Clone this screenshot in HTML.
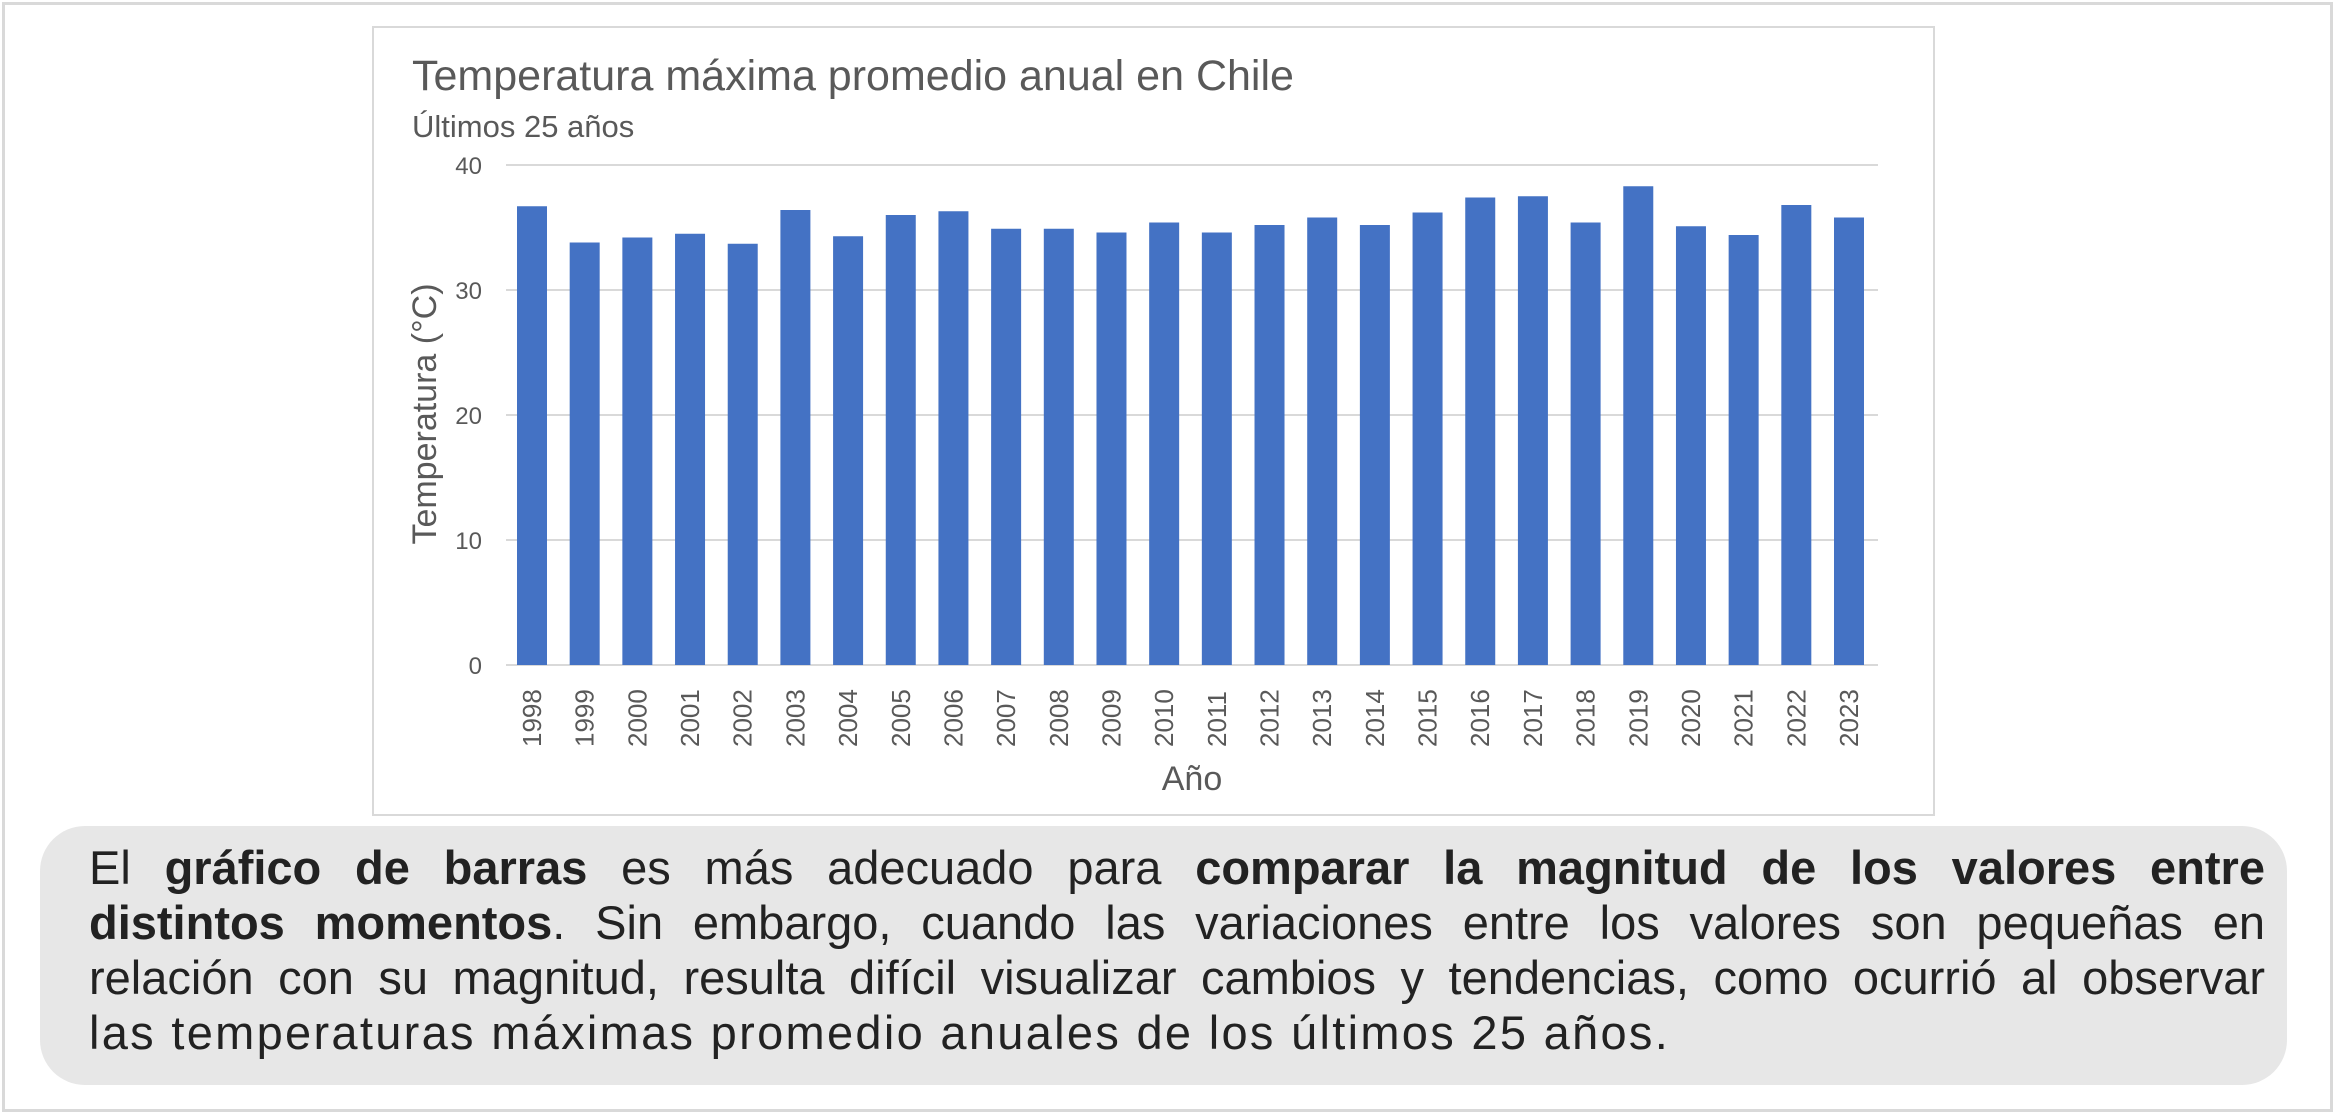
<!DOCTYPE html>
<html><head><meta charset="utf-8"><style>
body{margin:0;width:2333px;height:1112px;background:#fff;position:relative;overflow:hidden;font-family:"Liberation Sans",sans-serif}
.outer{position:absolute;left:2px;top:2px;width:2325px;height:1104px;border:3px solid #d9d9d9}
.box{position:absolute;left:40px;top:826px;width:2247px;height:259px;background:#e7e7e7;border-radius:45px}
.p{position:absolute;left:89px;width:2176px;font-size:47px;color:#222;line-height:55px}
.j{text-align:justify;text-align-last:justify;white-space:nowrap}
b{font-weight:bold}
</style></head><body>
<div class="outer"></div>
<svg width="2333" height="1112" style="position:absolute;left:0;top:0">
<rect x="373" y="27" width="1561" height="788" fill="#fff" stroke="#d9d9d9" stroke-width="2"/>
<text x="412" y="90" font-size="43" fill="#595959" font-family="Liberation Sans">Temperatura máxima promedio anual en Chile</text>
<text x="412" y="137" font-size="31" fill="#595959" font-family="Liberation Sans">Últimos 25 años</text>
<g stroke="#d9d9d9" stroke-width="2">
<line x1="506" x2="1878" y1="165" y2="165"/><line x1="506" x2="1878" y1="290" y2="290"/><line x1="506" x2="1878" y1="415" y2="415"/><line x1="506" x2="1878" y1="540" y2="540"/><line x1="506" x2="1878" y1="665" y2="665"/>
</g>
<g font-size="24" fill="#595959" text-anchor="end" font-family="Liberation Sans">
<text x="482" y="174">40</text><text x="482" y="299">30</text><text x="482" y="424">20</text><text x="482" y="549">10</text><text x="482" y="674">0</text>
</g>
<text transform="translate(436,414) rotate(-90)" text-anchor="middle" font-size="34" fill="#595959" font-family="Liberation Sans">Temperatura (°C)</text>
<text x="1192" y="790" text-anchor="middle" font-size="34" fill="#595959" font-family="Liberation Sans">Año</text>
<g id="bars" fill="#4472c4"></g>
<g id="lbl" font-size="26" fill="#595959" font-family="Liberation Sans"></g>
</svg>
<script>
var v=[36.7,33.8,34.2,34.5,33.7,36.4,34.3,36.0,36.3,34.9,34.9,34.6,35.4,34.6,35.2,35.8,35.2,36.2,37.4,37.5,35.4,38.3,35.1,34.4,36.8,35.8];
var b='',l='';
for(var i=0;i<26;i++){var cx=532+i*52.68,h=v[i]*12.5;
b+='<rect x="'+(cx-15)+'" y="'+(665-h)+'" width="30" height="'+h+'"/>';
l+='<text transform="translate('+(cx+9)+',747) rotate(-90)">'+(1998+i)+'</text>';}
document.getElementById('bars').innerHTML=b;document.getElementById('lbl').innerHTML=l;
</script>
<div class="box"></div>
<div class="p j" style="top:840px">El <b>gráfico de barras</b> es más adecuado para <b>comparar la magnitud de los valores entre</b></div>
<div class="p j" style="top:895px"><b>distintos momentos</b>. Sin embargo, cuando las variaciones entre los valores son pequeñas en</div>
<div class="p j" style="top:950px">relación con su magnitud, resulta difícil visualizar cambios y tendencias, como ocurrió al observar</div>
<div class="p" style="top:1005px;letter-spacing:2.3px">las temperaturas máximas promedio anuales de los últimos 25 años.</div>
</body></html>
